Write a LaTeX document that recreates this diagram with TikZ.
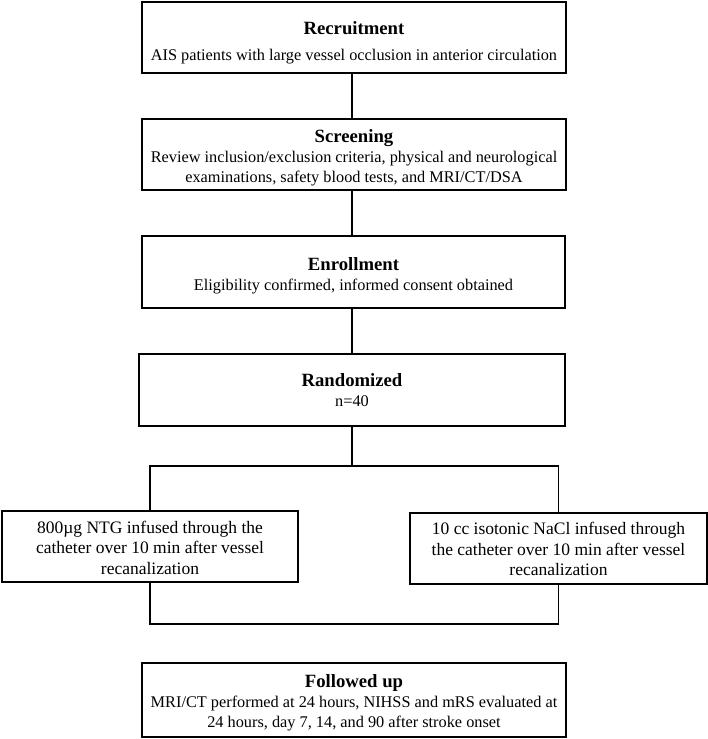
\documentclass[tikz,border=0pt]{standalone}
\usepackage{fontspec}
\setmainfont{Liberation Serif}
\newcommand{\ttl}[2][13]{\rule{0pt}{#1pt}\textbf{\fontsize{18.7}{20}\selectfont #2}}
\begin{document}
\begin{tikzpicture}[x=1pt,y=-1pt,
  box/.style={draw,line width=1.8pt,rectangle,align=center,inner sep=0pt,
    font=\fontsize{16.3}{20}\selectfont},
  arm/.style={box,font=\fontsize{17.5}{20.5}\selectfont},
  link/.style={line width=1.8pt}]
\useasboundingbox (0,0) rectangle (708,739);
\node[box,minimum width=424pt,minimum height=71pt] (rec) at (354,37.5)
  {\ttl[23]{Recruitment}\\[6pt]AIS patients with large vessel occlusion in anterior circulation};
\node[box,minimum width=424pt,minimum height=71pt] (scr) at (354,154.5)
  {\ttl[20]{Screening}\\Review inclusion/exclusion criteria, physical and neurological\\examinations, safety blood tests, and MRI/CT/DSA};
\node[box,minimum width=423pt,minimum height=72pt] (enr) at (353.5,272)
  {\ttl[21]{Enrollment}\\Eligibility confirmed, informed consent obtained};
\node[box,minimum width=426pt,minimum height=72pt] (ran) at (352,390)
  {\ttl[14]{Randomized}\\n=40};
\node[arm,minimum width=296pt,minimum height=71pt] (left) at (150,546.5)
  {\rule{0pt}{15pt}800µg NTG infused through the\\catheter over 10 min after vessel\\recanalization};
\node[arm,minimum width=297pt,minimum height=71pt] (right) at (558.5,548.5)
  {\rule{0pt}{14pt}10 cc isotonic NaCl infused through\\the catheter over 10 min after vessel\\recanalization};
\node[box,minimum width=424pt,minimum height=74pt] (fol) at (354,700)
  {\ttl[19]{Followed up}\\MRI/CT performed at 24 hours, NIHSS and mRS evaluated at\\24 hours, day 7, 14, and 90 after stroke onset};
\coordinate (split) at (352,466);
\coordinate (jL) at (150,466);
\coordinate (jR) at (558.5,466);
\coordinate (bmid) at (354,624);
\draw[link] (rec.south -| split) -- (scr.north -| split);
\draw[link] (scr.south -| split) -- (enr.north -| split);
\draw[link] (enr.south -| split) -- (ran.north -| split);
\draw[link] (ran.south -| split) -- (split);
\draw[link] (left.north) -- (jL) -- (jR) -- (right.north);
\draw[link] (left.south) |- (bmid) -| (right.south);
\end{tikzpicture}
\end{document}
